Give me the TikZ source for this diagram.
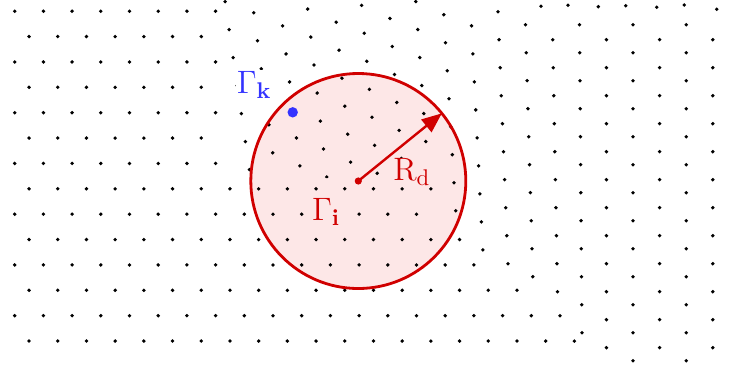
\RequirePackage{fix-cm}
\documentclass[tikz,border=0pt]{standalone}
\usepackage{amsmath, amssymb}
\usetikzlibrary{arrows.meta}

\definecolor{ringred}{RGB}{208,0,0}
\definecolor{ringpink}{RGB}{253,231,231}
\definecolor{nodeblue}{RGB}{51,51,255}

\begin{document}
\begin{tikzpicture}[x=0.5pt,y=-0.5pt,
    >={Triangle[length=10pt,width=8pt]},
    meshdot/.style={fill=black},
    lbl/.style={inner sep=0.5pt,font=\fontsize{16.2}{19}\selectfont}]
    \useasboundingbox (0,0) rectangle (731,365);

    % Support domain.
    \fill[ringpink] (358.3,181) circle (107.5);

    % Nodes, row lattice on the left.
    \begin{scope}
        \clip (-10,-10) -- (222,-10) -- (222,178) -- (437,178) -- (437,228)
            -- (465,228) -- (465,258) -- (490,258) -- (490,280) -- (540,280)
            -- (540,310) -- (565,310) -- (565,336) -- (590,336) -- (590,375)
            -- (-10,375) -- cycle;
        \foreach \jj in {-4,...,9}{
            \foreach \ii in {0,...,25}{
                \fill[meshdot] ({14.7+28.7*\ii+14.35*mod(abs(\jj),2)},
                    {112.7+25.37*\jj}) circle (1.9);
            }
        }
    \end{scope}

    % Nodes, column lattice on the right.
    \begin{scope}
        \clip (222,-10) -- (515,-10) -- (515,18) -- (745,18) -- (745,375)
            -- (590,375) -- (590,336) -- (565,336) -- (565,310) -- (540,310)
            -- (540,280) -- (490,280) -- (490,258) -- (465,258) -- (465,228)
            -- (437,228) -- (437,178) -- (222,178) -- cycle;
        \foreach \ii in {-10,...,9}{
            \foreach \jj in {-3,...,11}{
                \pgfmathsetmacro\bx{500+26.6*\ii}
                \pgfmathsetmacro\by{67.7+28*\jj+13*mod(abs(\ii),2)
                    +0.07*max(0,490-\bx)}
                \fill[meshdot] ({\bx+0.0004*max(0,600-\bx)*(\by-63.3)},\by)
                    circle (1.9);
            }
        }
    \end{scope}
    \foreach \xx/\yy in {541/6.3,568/5.3,598.3/6.7,625.7/5.7,656.7/7.3,
        684.3/5,716.7/9.3}{
        \fill[meshdot] (\xx,\yy) circle (1.9);
    }

    % Labels.
    \node[lbl,text=nodeblue,fill=white] (gk-label) at (254.2,84.5)
        {$\Gamma_{\mathbf{k}}$};
    \node[lbl,text=ringred,fill=ringpink] (gi-label) at (326.2,212.3)
        {$\Gamma_{\mathbf{i}}$};
    \node[lbl,text=ringred,fill=ringpink] (rd-label) at (411.8,172.3)
        {$\mathrm{R_d}$};

    % Ring, radius and the two marked nodes.
    \node[circle,draw=ringred,line width=1.4pt,minimum size=107.5pt,
        inner sep=0pt,outer sep=0pt] (domain) at (358.3,181) {};
    \node[circle,fill=ringred,inner sep=0pt,minimum size=3.6pt] (ctr)
        at (358.3,181) {};
    \draw[->,ringred,line width=1.2pt] (ctr.center) -- (domain.39);
    \node[circle,fill=nodeblue,inner sep=0pt,minimum size=5.2pt] (gk)
        at (292.7,112.3) {};
\end{tikzpicture}
\end{document}
